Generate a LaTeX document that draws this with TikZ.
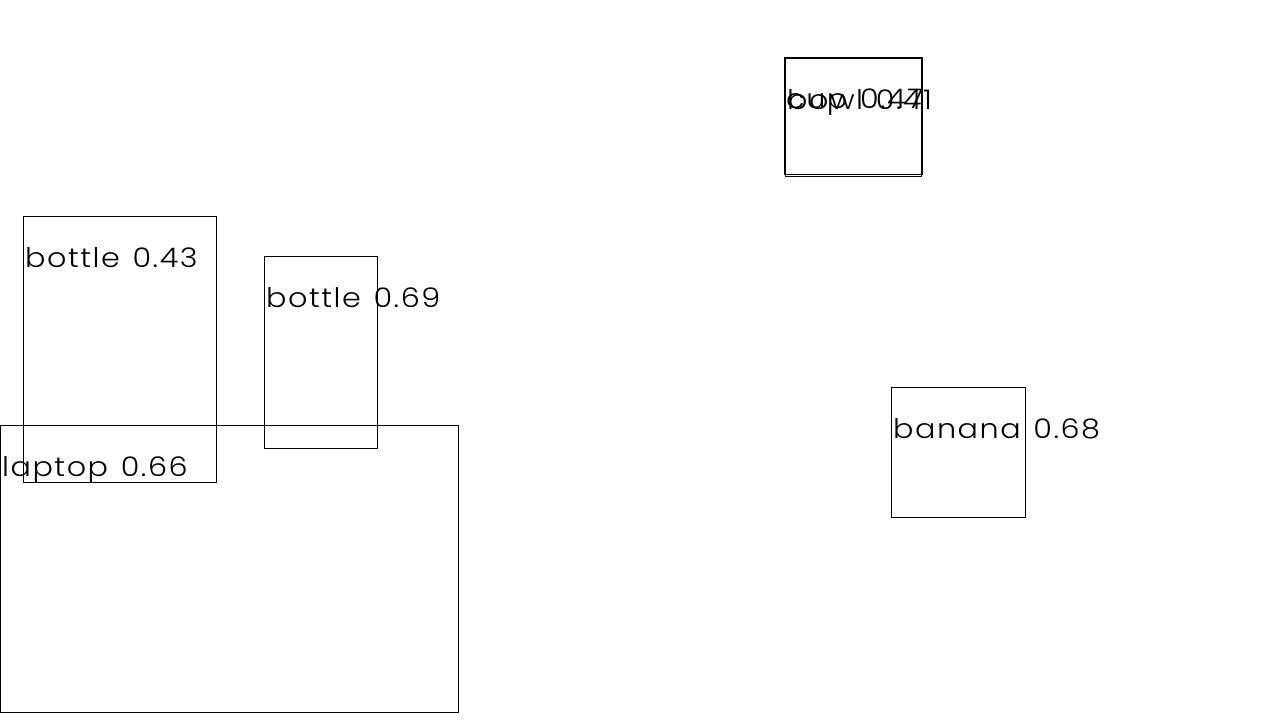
\documentclass[tikz,border=0pt]{standalone}
\usepackage{fontspec}
\setmainfont{Poppins}[UprightFont=* Light,LetterSpace=5,WordSpace=1.3]
\begin{document}
\begin{tikzpicture}[x=1pt,y=-1pt,
  detbox/.style={draw=black,line width=1pt},
  detlabel/.style={anchor=base west,inner sep=0pt,font=\fontsize{27}{27}\selectfont,xscale=1.12}]
\useasboundingbox[fill=white] (0,0) rectangle (1280,720);
\draw[detbox] (23.5,216.5) rectangle (216.5,482.5);
\draw[detbox] (264.5,256.5) rectangle (377.5,448.5);
\draw[detbox] (0.5,425.5) rectangle (458.5,712.5);
\draw[detbox] (784.5,57.5) rectangle (922.5,174.5);
\draw[detbox] (785.5,58.5) rectangle (921.5,176.5);
\draw[detbox] (891.5,387.5) rectangle (1025.5,517.5);
\node[detlabel] (b1) at (25,267) {bottle 0.43};
\node[detlabel] (b2) at (266,307) {bottle 0.69};
\node[detlabel] (lp) at (2,476) {laptop 0.66};
\node[detlabel] (cp) at (786,108) {cup 0.47};
\node[detlabel] (bw) at (787,109) {bowl 0.41};
\node[detlabel] (bn) at (893,438) {banana 0.68};
\end{tikzpicture}
\end{document}
